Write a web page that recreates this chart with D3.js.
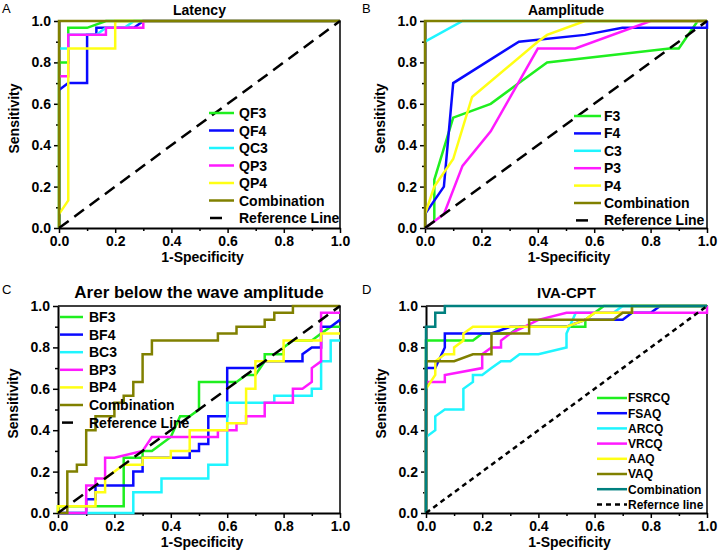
<!DOCTYPE html>
<html>
<head>
<meta charset="utf-8">
<script src="https://cdn.jsdelivr.net/npm/d3@7"></script>
<style>
  body { margin: 0; background: #fff; }
  svg text { font-family: Arial, "Liberation Sans", sans-serif; }
</style>
</head>
<body>
<div id="chart"></div>
<script>
// Shared axis values
const majorTicks = [0, 0.2, 0.4, 0.6, 0.8, 1.0];
const minorTicks = [0.1, 0.3, 0.5, 0.7, 0.9];
const diagonal = [[0, 0], [1, 1]];

// A: Latency
const latencyNames = ['QF3', 'QF4', 'QC3', 'QP3', 'QP4', 'Combination', 'Reference Line'];
const latencyQF3 = [[0, 0], [0, 0.8], [0.033, 0.8], [0.033, 0.967], [0.1, 0.967], [0.167, 1], [1, 1]];
const latencyQF4 = [[0, 0.667], [0.033, 0.7], [0.1, 0.7], [0.1, 0.933], [0.133, 0.933], [0.133, 0.967], [0.267, 0.967], [0.3, 1], [1, 1]];
const latencyQC3 = [[0, 0.867], [0.033, 0.867], [0.033, 0.933], [0.133, 0.933], [0.167, 0.967], [0.233, 0.967], [0.267, 1], [1, 1]];
const latencyQP3 = [[0, 0.733], [0.033, 0.733], [0.033, 0.933], [0.167, 0.933], [0.167, 0.967], [0.3, 0.967], [0.3, 1], [1, 1]];
const latencyQP4 = [[0, 0.067], [0.033, 0.133], [0.033, 0.867], [0.2, 0.867], [0.2, 1], [1, 1]];
const latencyComb = [[0, 0], [0, 1], [1, 1]];

// B: Aamplitude
const ampNames = ['F3', 'F4', 'C3', 'P3', 'P4', 'Combination', 'Reference Line'];
const ampF3 = [[0, 0], [0.033, 0.033], [0.033, 0.233], [0.1, 0.533], [0.233, 0.6], [0.333, 0.7], [0.433, 0.8], [0.867, 0.867], [0.9, 0.867], [0.967, 1], [1, 1]];
const ampF4 = [[0, 0.067], [0.067, 0.2], [0.1, 0.7], [0.333, 0.9], [0.567, 0.933], [0.7, 0.967], [1, 0.967], [1, 1]];
const ampC3 = [[0, 0.9], [0.133, 1], [1, 1]];
const ampP3 = [[0, 0], [0.033, 0.033], [0.067, 0.067], [0.133, 0.3], [0.233, 0.467], [0.4, 0.867], [0.533, 0.867], [0.8, 1], [1, 1]];
const ampP4 = [[0, 0.067], [0.033, 0.2], [0.1, 0.333], [0.167, 0.633], [0.4, 0.9], [0.433, 0.933], [0.567, 1], [1, 1]];
const ampComb = [[0, 0], [0, 1], [1, 1]];

// C: Arer below the wave amplitude
const areaNames = ['BF3', 'BF4', 'BC3', 'BP3', 'BP4', 'Combination', 'Reference Line'];
const areaBF3 = [[0, 0], [0, 0.033], [0.233, 0.033], [0.233, 0.267], [0.3, 0.267], [0.3, 0.3], [0.333, 0.3], [0.4, 0.367], [0.433, 0.467], [0.467, 0.467], [0.5, 0.5], [0.5, 0.633], [0.633, 0.633], [0.667, 0.667], [0.7, 0.667], [0.733, 0.733], [0.733, 0.767], [0.8, 0.767], [0.8, 0.8], [0.833, 0.833], [0.9, 0.833], [0.933, 0.867], [0.967, 0.9], [1, 0.9]];
const areaBF4 = [[0, 0], [0.1, 0], [0.1, 0.067], [0.133, 0.067], [0.133, 0.133], [0.267, 0.133], [0.267, 0.2], [0.3, 0.2], [0.3, 0.267], [0.467, 0.267], [0.467, 0.3], [0.5, 0.3], [0.5, 0.333], [0.533, 0.333], [0.533, 0.467], [0.6, 0.467], [0.6, 0.7], [0.7, 0.7], [0.733, 0.733], [0.867, 0.733], [0.867, 0.767], [0.9, 0.8], [0.933, 0.8], [0.933, 0.9], [0.967, 0.9], [1, 0.933]];
const areaBC3 = [[0, 0], [0.267, 0], [0.267, 0.1], [0.367, 0.1], [0.367, 0.167], [0.533, 0.167], [0.533, 0.233], [0.6, 0.233], [0.6, 0.533], [0.767, 0.533], [0.767, 0.567], [0.9, 0.567], [0.9, 0.6], [0.933, 0.6], [0.933, 0.733], [0.967, 0.733], [0.967, 0.833], [1, 0.833]];
const areaBP3 = [[0, 0], [0.1, 0], [0.1, 0.133], [0.133, 0.133], [0.133, 0.167], [0.167, 0.167], [0.167, 0.267], [0.2, 0.267], [0.3, 0.3], [0.333, 0.367], [0.567, 0.367], [0.567, 0.4], [0.633, 0.4], [0.633, 0.433], [0.667, 0.433], [0.667, 0.467], [0.733, 0.467], [0.733, 0.533], [0.833, 0.533], [0.833, 0.6], [0.867, 0.6], [0.9, 0.633], [0.9, 0.7], [0.933, 0.733], [0.933, 0.967], [1, 0.967]];
const areaBP4 = [[0, 0], [0, 0.033], [0.133, 0.033], [0.133, 0.1], [0.167, 0.1], [0.167, 0.167], [0.233, 0.233], [0.3, 0.233], [0.3, 0.267], [0.4, 0.267], [0.4, 0.3], [0.467, 0.3], [0.467, 0.4], [0.6, 0.4], [0.6, 0.433], [0.667, 0.433], [0.667, 0.6], [0.7, 0.6], [0.7, 0.733], [0.8, 0.733], [0.8, 0.833], [0.933, 0.833], [0.933, 0.867], [1, 0.867]];
const areaComb = [[0, 0], [0.033, 0], [0.033, 0.2], [0.067, 0.2], [0.067, 0.233], [0.1, 0.233], [0.1, 0.4], [0.133, 0.4], [0.133, 0.467], [0.2, 0.467], [0.2, 0.533], [0.233, 0.533], [0.233, 0.567], [0.267, 0.567], [0.267, 0.633], [0.3, 0.633], [0.3, 0.767], [0.333, 0.767], [0.333, 0.833], [0.567, 0.833], [0.567, 0.867], [0.633, 0.867], [0.633, 0.9], [0.733, 0.9], [0.733, 0.933], [0.767, 0.933], [0.767, 0.967], [0.833, 0.967], [0.833, 1], [1, 1]];

// D: IVA-CPT
const ivaNames = ['FSRCQ', 'FSAQ', 'ARCQ', 'VRCQ', 'AAQ', 'VAQ', 'Combination', 'Refernce line'];
const ivaFSRCQ = [[0, 0], [0, 0.833], [0.167, 0.833], [0.2, 0.867], [0.3, 0.867], [0.333, 0.9], [0.5, 0.9], [0.567, 0.9], [0.567, 0.933], [0.6, 0.967], [0.633, 1], [1, 1]];
const ivaFSAQ = [[0, 0], [0, 0.7], [0.033, 0.7], [0.067, 0.8], [0.067, 0.867], [0.233, 0.867], [0.3, 0.9], [0.5, 0.9], [0.567, 0.933], [0.7, 0.933], [0.733, 0.967], [0.8, 0.967], [0.833, 1], [1, 1]];
const ivaARCQ = [[0, 0], [0, 0.367], [0.033, 0.4], [0.033, 0.467], [0.067, 0.5], [0.133, 0.5], [0.133, 0.6], [0.167, 0.633], [0.167, 0.667], [0.2, 0.667], [0.233, 0.7], [0.267, 0.733], [0.3, 0.733], [0.333, 0.767], [0.4, 0.767], [0.5, 0.8], [0.5, 0.867], [0.533, 0.967], [0.667, 0.967], [0.7, 1], [1, 1]];
const ivaVRCQ = [[0, 0], [0, 0.633], [0.067, 0.633], [0.067, 0.667], [0.2, 0.7], [0.2, 0.767], [0.233, 0.8], [0.267, 0.8], [0.267, 0.833], [0.3, 0.867], [0.4, 0.933], [0.5, 0.967], [1, 0.967], [1, 1]];
const ivaAAQ = [[0, 0], [0, 0.6], [0.033, 0.667], [0.033, 0.733], [0.067, 0.767], [0.1, 0.767], [0.1, 0.8], [0.133, 0.833], [0.133, 0.867], [0.167, 0.9], [0.5, 0.9], [0.567, 0.933], [0.6, 0.967], [0.733, 0.967], [0.733, 1], [1, 1]];
const ivaVAQ = [[0, 0], [0, 0.733], [0.1, 0.733], [0.167, 0.767], [0.233, 0.767], [0.233, 0.867], [0.367, 0.867], [0.367, 0.933], [0.667, 0.933], [0.7, 0.967], [0.733, 0.967], [0.733, 1], [1, 1]];
const ivaComb = [[0, 0], [0, 0.9], [0.033, 0.9], [0.033, 0.967], [0.067, 0.967], [0.067, 1], [1, 1]];

const GREEN = '#1fef1f', BLUE = '#0a0aff', CYAN = '#1ff5ff', MAGENTA = '#ff1aff',
      YELLOW = '#ffff14', OLIVE = '#808000', TEAL = '#00807f';

const svg = d3.select('#chart').append('svg')
  .attr('width', 721).attr('height', 555);

function drawPanel(p) {
  const g = svg.append('g');
  const x = d3.scaleLinear().domain([0, 1]).range([p.left, p.right]);
  const y = d3.scaleLinear().domain([0, 1]).range([p.bottom, p.top]);

  // frame (top / right)
  g.append('path')
    .attr('d', `M${p.left},${p.top}H${p.right}V${p.bottom}`)
    .attr('fill', 'none').attr('stroke', '#000').attr('stroke-width', 1.5);

  // minor ticks
  g.append('g').attr('transform', `translate(0,${p.bottom})`)
    .call(d3.axisBottom(x).tickValues(minorTicks).tickSize(3).tickFormat(''))
    .call(a => a.select('.domain').remove());
  g.append('g').attr('transform', `translate(${p.left},0)`)
    .call(d3.axisLeft(y).tickValues(minorTicks).tickSize(3).tickFormat(''))
    .call(a => a.select('.domain').remove());

  // major axes
  const xa = g.append('g').attr('transform', `translate(0,${p.bottom})`)
    .call(d3.axisBottom(x).tickValues(majorTicks).tickSize(5).tickSizeOuter(0)
      .tickPadding(3).tickFormat(d3.format('.1f')));
  const ya = g.append('g').attr('transform', `translate(${p.left},0)`)
    .call(d3.axisLeft(y).tickValues(majorTicks).tickSize(5).tickSizeOuter(0)
      .tickPadding(3).tickFormat(d3.format('.1f')));
  [xa, ya].forEach(a => {
    a.select('.domain').attr('stroke-width', 2);
    a.selectAll('.tick text').attr('font-size', 14).attr('font-weight', 'bold')
      .attr('font-family', 'Arial, "Liberation Sans", sans-serif').attr('fill', '#000');
  });
  g.selectAll('.tick line').attr('stroke-width', 1.5);

  // axis titles
  g.append('text')
    .attr('x', (p.left + p.right) / 2 + 3).attr('y', p.bottom + 34)
    .attr('text-anchor', 'middle').attr('font-size', 14).attr('font-weight', 'bold')
    .text('1-Specificity');
  g.append('text')
    .attr('transform', `translate(${p.left - 40},${(p.top + p.bottom) / 2 - 6}) rotate(-90)`)
    .attr('text-anchor', 'middle').attr('font-size', 14).attr('font-weight', 'bold')
    .text('Sensitivity');

  // title and panel letter
  g.append('text')
    .attr('x', (p.left + p.right) / 2).attr('y', p.top - p.titleGap)
    .attr('text-anchor', 'middle').attr('font-size', p.titleSize).attr('font-weight', 'bold')
    .text(p.title);
  g.append('text')
    .attr('x', p.letterX).attr('y', p.letterY)
    .attr('font-size', 13).text(p.letter);

  // curves
  const line = d3.line().x(d => x(d[0])).y(d => y(d[1]));
  p.series.forEach((s, i) => {
    g.append('path').datum(s)
      .attr('d', line)
      .attr('fill', 'none')
      .attr('stroke', i < p.colors.length ? p.colors[i] : '#000')
      .attr('stroke-width', 2.5)
      .attr('stroke-dasharray', i < p.colors.length ? null : p.refDash);
  });

  // legend
  const lg = g.append('g');
  p.names.forEach((name, i) => {
    const cy = p.legY + i * p.legStep;
    const isRef = i >= p.colors.length;
    lg.append('line')
      .attr('x1', isRef ? p.legRefX1 : p.legX1).attr('x2', isRef ? p.legRefX2 : p.legX2)
      .attr('y1', cy).attr('y2', cy)
      .attr('stroke', isRef ? '#000' : p.colors[i])
      .attr('stroke-width', 2.5)
      .attr('stroke-dasharray', isRef ? p.legRefDash : null);
    lg.append('text')
      .attr('x', p.legTextX).attr('y', cy).attr('dy', '0.36em')
      .attr('font-size', p.legSize).attr('font-weight', 'bold')
      .text(name);
  });
}

drawPanel({
  left: 59, right: 340, top: 21, bottom: 228,
  title: 'Latency', titleSize: 14, titleGap: 6, letter: 'A', letterX: 2, letterY: 13,
  names: latencyNames,
  series: [latencyQF3, latencyQF4, latencyQC3, latencyQP3, latencyQP4, latencyComb, diagonal],
  colors: [GREEN, BLUE, CYAN, MAGENTA, YELLOW, OLIVE],
  refDash: '12,7',
  legY: 113, legStep: 17.5, legX1: 209, legX2: 234, legTextX: 239, legSize: 14,
  legRefX1: 210, legRefX2: 222, legRefDash: null
});

drawPanel({
  left: 425, right: 707, top: 21, bottom: 228,
  title: 'Aamplitude', titleSize: 14, titleGap: 6, letter: 'B', letterX: 362, letterY: 13,
  names: ampNames,
  series: [ampF3, ampF4, ampC3, ampP3, ampP4, ampComb, diagonal],
  colors: [GREEN, BLUE, CYAN, MAGENTA, YELLOW, OLIVE],
  refDash: '12,7',
  legY: 116, legStep: 17.4, legX1: 574, legX2: 601, legTextX: 604, legSize: 14,
  legRefX1: 576, legRefX2: 588, legRefDash: null
});

drawPanel({
  left: 58, right: 340, top: 306, bottom: 513,
  title: 'Arer below the wave amplitude', titleSize: 17, titleGap: 8, letter: 'C', letterX: 2, letterY: 294,
  names: areaNames,
  series: [areaBF3, areaBF4, areaBC3, areaBP3, areaBP4, areaComb, diagonal],
  colors: [GREEN, BLUE, CYAN, MAGENTA, YELLOW, OLIVE],
  refDash: '12,7',
  legY: 317, legStep: 17.6, legX1: 60, legX2: 83, legTextX: 89, legSize: 14,
  legRefX1: 62, legRefX2: 73, legRefDash: null
});

drawPanel({
  left: 426, right: 707, top: 306, bottom: 513,
  title: 'IVA-CPT', titleSize: 15, titleGap: 8, letter: 'D', letterX: 362, letterY: 294,
  names: ivaNames,
  series: [ivaFSRCQ, ivaFSAQ, ivaARCQ, ivaVRCQ, ivaAAQ, ivaVAQ, ivaComb, diagonal],
  colors: [GREEN, BLUE, CYAN, MAGENTA, YELLOW, OLIVE, TEAL],
  refDash: '5,4',
  legY: 398, legStep: 15.2, legX1: 597, legX2: 627, legTextX: 628, legSize: 12,
  legRefX1: 597, legRefX2: 627, legRefDash: '5,4'
});
</script>
</body>
</html>
